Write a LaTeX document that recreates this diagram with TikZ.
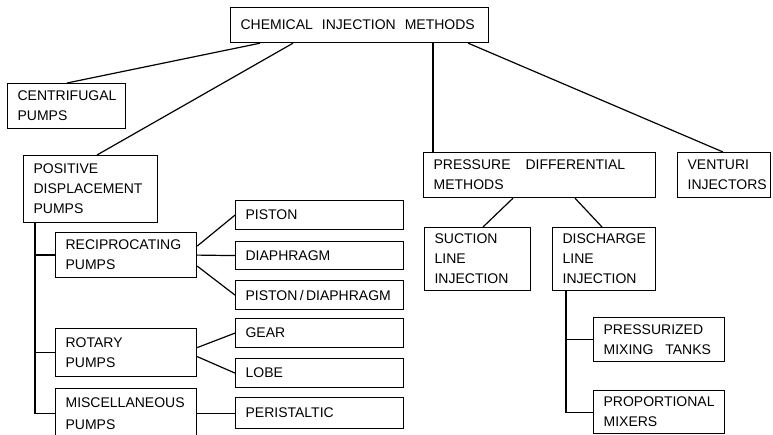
\documentclass[tikz,border=0pt]{standalone}
\usepackage{fontspec}
\setmainfont{Liberation Sans}
\begin{document}
\begin{tikzpicture}[x=1pt, y=-1pt, line width=1.2pt,
    boxStyle/.style 2 args={draw, rectangle, anchor=north west, align=left, inner xsep=10pt, inner ysep=0pt,
        text width=#1, minimum height=#2, font=\fontsize{14}{20}\selectfont}]
    \useasboundingbox (0,0) rectangle (773,435);
    \clip (0,0) rectangle (773,435);

    \node[boxStyle={238pt}{35pt}](root) at (230, 7) {CHEMICAL\hspace{9pt}INJECTION\hspace{9pt}METHODS};
    \node[boxStyle={98pt}{45pt}](11) at (7, 83) {CENTRIFUGAL\\PUMPS};
    \node[boxStyle={114pt}{67pt}](12) at (23, 155) {POSITIVE\\DISPLACEMENT\\PUMPS};
    \node[boxStyle={212pt}{45pt}](13) at (423, 152) {PRESSURE\hspace{15pt}DIFFERENTIAL\\METHODS};
    \node[boxStyle={73pt}{45pt}](14) at (677, 152) {VENTURI\\INJECTORS};

    \node[boxStyle={121pt}{45pt}](21) at (55, 232) {RECIPROCATING\\PUMPS};
    \node[boxStyle={121pt}{48pt}](22) at (55, 328) {ROTARY\\PUMPS};
    \node[boxStyle={121pt}{50pt}](23) at (55, 388) {MISCELLANEOUS\\[2pt]PUMPS};
    \node[boxStyle={86pt}{63pt}](24) at (424, 227) {SUCTION\\LINE\\INJECTION};
    \node[boxStyle={83pt}{63pt}](25) at (552, 227) {DISCHARGE\\LINE\\INJECTION};

    \node[boxStyle={148pt}{29pt}](31) at (235, 200) {PISTON};
    \node[boxStyle={148pt}{28pt}](32) at (235, 241) {DIAPHRAGM};
    \node[boxStyle={148pt}{29pt}](33) at (235, 280) {\mbox{PISTON\,/\,DIAPHRAGM}};
    \node[boxStyle={148pt}{29pt}](34) at (235, 318) {GEAR};
    \node[boxStyle={148pt}{29pt}](35) at (235, 358) {LOBE};
    \node[boxStyle={148pt}{31pt}](36) at (235, 397) {PERISTALTIC};
    \node[boxStyle={111pt}{44pt}](37) at (593, 317) {PRESSURIZED\\\mbox{MIXING\hspace{12pt}TANKS}};
    \node[boxStyle={111pt}{43pt}](38) at (593, 390) {PROPORTIONAL\\MIXERS};

    \draw ([xshift=30pt]root.south west) -- ([xshift=60pt]11.north west);
    \draw ([xshift=63pt]root.south west) -- ([xshift=74pt]12.north west);
    \draw ([xshift=10pt]13.north west) -- ([xshift=10pt]13.north west |- root.south);
    \draw ([xshift=-21pt]root.south east) -- ([xshift=46pt]14.north west);
    \draw ([xshift=90pt]13.south west) -- ([xshift=59pt]24.north west);
    \draw ([xshift=152pt]13.south west) -- ([xshift=50pt]25.north west);

    \draw ([xshift=12pt]12.south west) coordinate (ptrunk) |- (36.west -| 23.west);
    \draw (21.west) -- (21.west -| ptrunk);
    \draw (22.west) -- (22.west -| ptrunk);
    \draw ([xshift=14pt]25.south west) coordinate (dtrunk) |- (38.west);
    \draw (37.west) -- (37.west -| dtrunk);

    \draw ([yshift=9pt]21.east) -- (31.west);
    \draw (21.east) -- (32.west);
    \draw ([yshift=-11pt]21.east) -- (33.west);
    \draw ([yshift=5pt]22.east) -- (34.west);
    \draw ([yshift=-4pt]22.east) -- (35.west);
    \draw (36.west) -- (36.west -| 23.east);
\end{tikzpicture}
\end{document}
